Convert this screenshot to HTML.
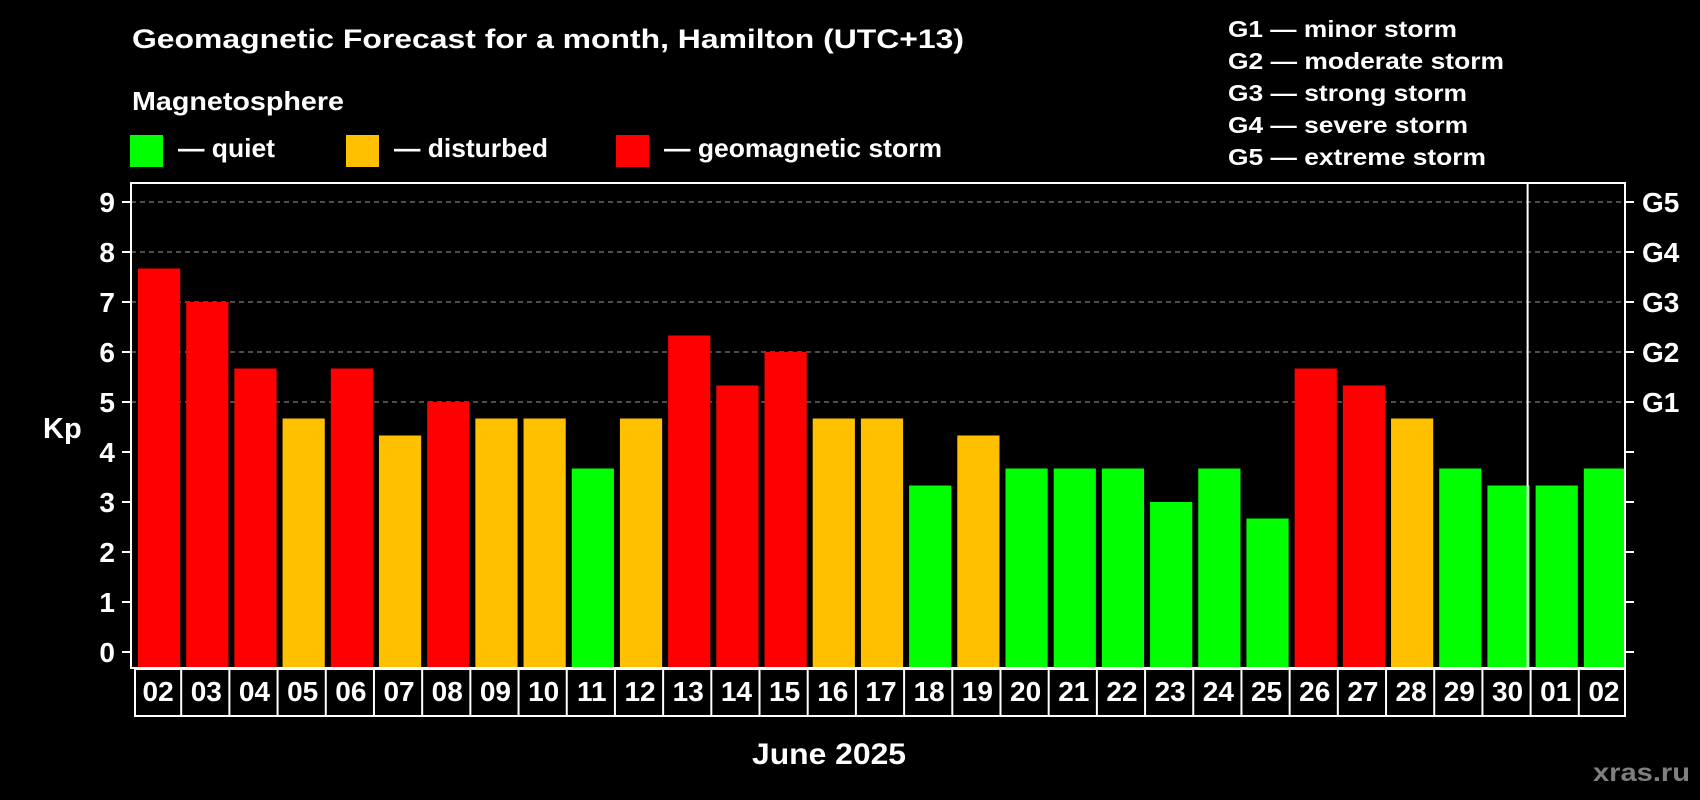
<!DOCTYPE html>
<html><head><meta charset="utf-8"><style>
html,body{margin:0;padding:0;background:#000;}
svg{display:block;font-family:"Liberation Sans",Arial,sans-serif;font-weight:bold;}
</style></head><body>
<svg id="chart" width="1700" height="800" viewBox="0 0 1700 800">
<rect x="0" y="0" width="1700" height="800" fill="#000"/>
<text x="132" y="48" font-size="27" fill="#fff" textLength="832" lengthAdjust="spacingAndGlyphs">Geomagnetic Forecast for a month, Hamilton (UTC+13)</text>
<text x="132" y="110" font-size="26" fill="#fff" textLength="212" lengthAdjust="spacingAndGlyphs">Magnetosphere</text>
<g>
<rect x="130" y="135" width="33" height="32" fill="#00ff00"/>
<text x="178" y="157" font-size="26" fill="#fff" textLength="97" lengthAdjust="spacingAndGlyphs">— quiet</text>
</g>
<g>
<rect x="346" y="135" width="33" height="32" fill="#ffc000"/>
<text x="394" y="157" font-size="26" fill="#fff" textLength="154" lengthAdjust="spacingAndGlyphs">— disturbed</text>
</g>
<g>
<rect x="616" y="135" width="33" height="32" fill="#ff0000"/>
<text x="664" y="157" font-size="26" fill="#fff" textLength="278" lengthAdjust="spacingAndGlyphs">— geomagnetic storm</text>
</g>
<g font-size="23" fill="#fff">
<text x="1228" y="37" textLength="229" lengthAdjust="spacingAndGlyphs">G1 — minor storm</text>
<text x="1228" y="69" textLength="276" lengthAdjust="spacingAndGlyphs">G2 — moderate storm</text>
<text x="1228" y="101" textLength="239" lengthAdjust="spacingAndGlyphs">G3 — strong storm</text>
<text x="1228" y="133" textLength="240" lengthAdjust="spacingAndGlyphs">G4 — severe storm</text>
<text x="1228" y="165" textLength="258" lengthAdjust="spacingAndGlyphs">G5 — extreme storm</text>
</g>
<g id="grid"></g>
<g id="bars"></g>
<g id="axes"></g>
<g id="xlabels"></g>
<text x="43" y="438" font-size="29" fill="#fff">Kp</text>
<text x="752" y="764" font-size="30" fill="#fff" textLength="154" lengthAdjust="spacingAndGlyphs">June 2025</text>
<text x="1593" y="781" font-size="25" fill="#808080" textLength="97" lengthAdjust="spacingAndGlyphs">xras.ru</text>
</svg>
<script>
const days = ["02","03","04","05","06","07","08","09","10","11","12","13","14","15","16","17","18","19","20","21","22","23","24","25","26","27","28","29","30","01","02"];
const kpValues = [7.67,7,5.67,4.67,5.67,4.33,5,4.67,4.67,3.67,4.67,6.33,5.33,6,4.67,4.67,3.33,4.33,3.67,3.67,3.67,3,3.67,2.67,5.67,5.33,4.67,3.67,3.33,3.33,3.67];
const yTicks = [0,1,2,3,4,5,6,7,8,9];
const gLabels = ["G1","G2","G3","G4","G5"];
const gLevels = [5,6,7,8,9];
const monthBreakIndex = 29;

const NS = "http://www.w3.org/2000/svg";
const L = 131, R = 1625, T = 183, B = 668;
const slot = (R - L) / days.length;
function yScale(v){ return 652 - 50 * v; }
function xScale(i){ return L + i * slot; }
function mk(tag, attrs, parent){
  const e = document.createElementNS(NS, tag);
  for (const k in attrs) e.setAttribute(k, attrs[k]);
  parent.appendChild(e);
  return e;
}
const grid = document.getElementById('grid');
const bars = document.getElementById('bars');
const axes = document.getElementById('axes');
const xl = document.getElementById('xlabels');

gLevels.forEach((v, i) => {
  const ln = mk('line', {x1: L, x2: R, y1: yScale(v), y2: yScale(v), stroke: '#999', 'stroke-width': 1, 'stroke-dasharray': '5,4'}, grid);
  
  
});

kpValues.forEach((v, i) => {
  const c = v >= 5 ? '#ff0000' : (v >= 4 ? '#ffc000' : '#00ff00');
  const r = mk('rect', {x: xScale(i) + 7, y: yScale(v), width: slot - 6, height: B - yScale(v), fill: c}, bars);
  
  
});

const frame = mk('rect', {x: L, y: T, width: R - L, height: B - T, fill: 'none', stroke: '#fff', 'stroke-width': 2}, axes);


const sep = mk('line', {x1: xScale(monthBreakIndex) - 1, x2: xScale(monthBreakIndex) - 1, y1: T, y2: B, stroke: '#fff', 'stroke-width': 2}, axes);



yTicks.forEach(v => {
  const y = yScale(v);
  const t1 = mk('line', {x1: L - 9, x2: L, y1: y, y2: y, stroke: '#fff', 'stroke-width': 2}, axes);
  
  
  const t2 = mk('line', {x1: R, x2: R + 9, y1: y, y2: y, stroke: '#fff', 'stroke-width': 2}, axes);
  
  
  const tx = mk('text', {x: 115, y: y + 10, 'font-size': 28, fill: '#fff', 'text-anchor': 'end'}, axes);
  tx.textContent = v;
  
  
});
gLevels.forEach((v, i) => {
  const tx = mk('text', {x: 1642, y: yScale(v) + 10, 'font-size': 28, fill: '#fff'}, axes);
  tx.textContent = gLabels[i];
  
  
});

const lb = mk('rect', {x: xScale(0) + 4, y: 669, width: R - L - 4, height: 47, fill: 'none', stroke: '#fff', 'stroke-width': 2}, xl);


days.forEach((d, i) => {
  if (i > 0) {
    const dv = mk('line', {x1: xScale(i) + 2, x2: xScale(i) + 2, y1: 669, y2: 716, stroke: '#fff', 'stroke-width': 2}, xl);
    
    
  }
  const tx = mk('text', {x: xScale(i) + slot / 2 + 3, y: 701, 'font-size': 28, fill: '#fff', 'text-anchor': 'middle'}, xl);
  tx.textContent = d;
  
  
});
</script>
</body></html>
